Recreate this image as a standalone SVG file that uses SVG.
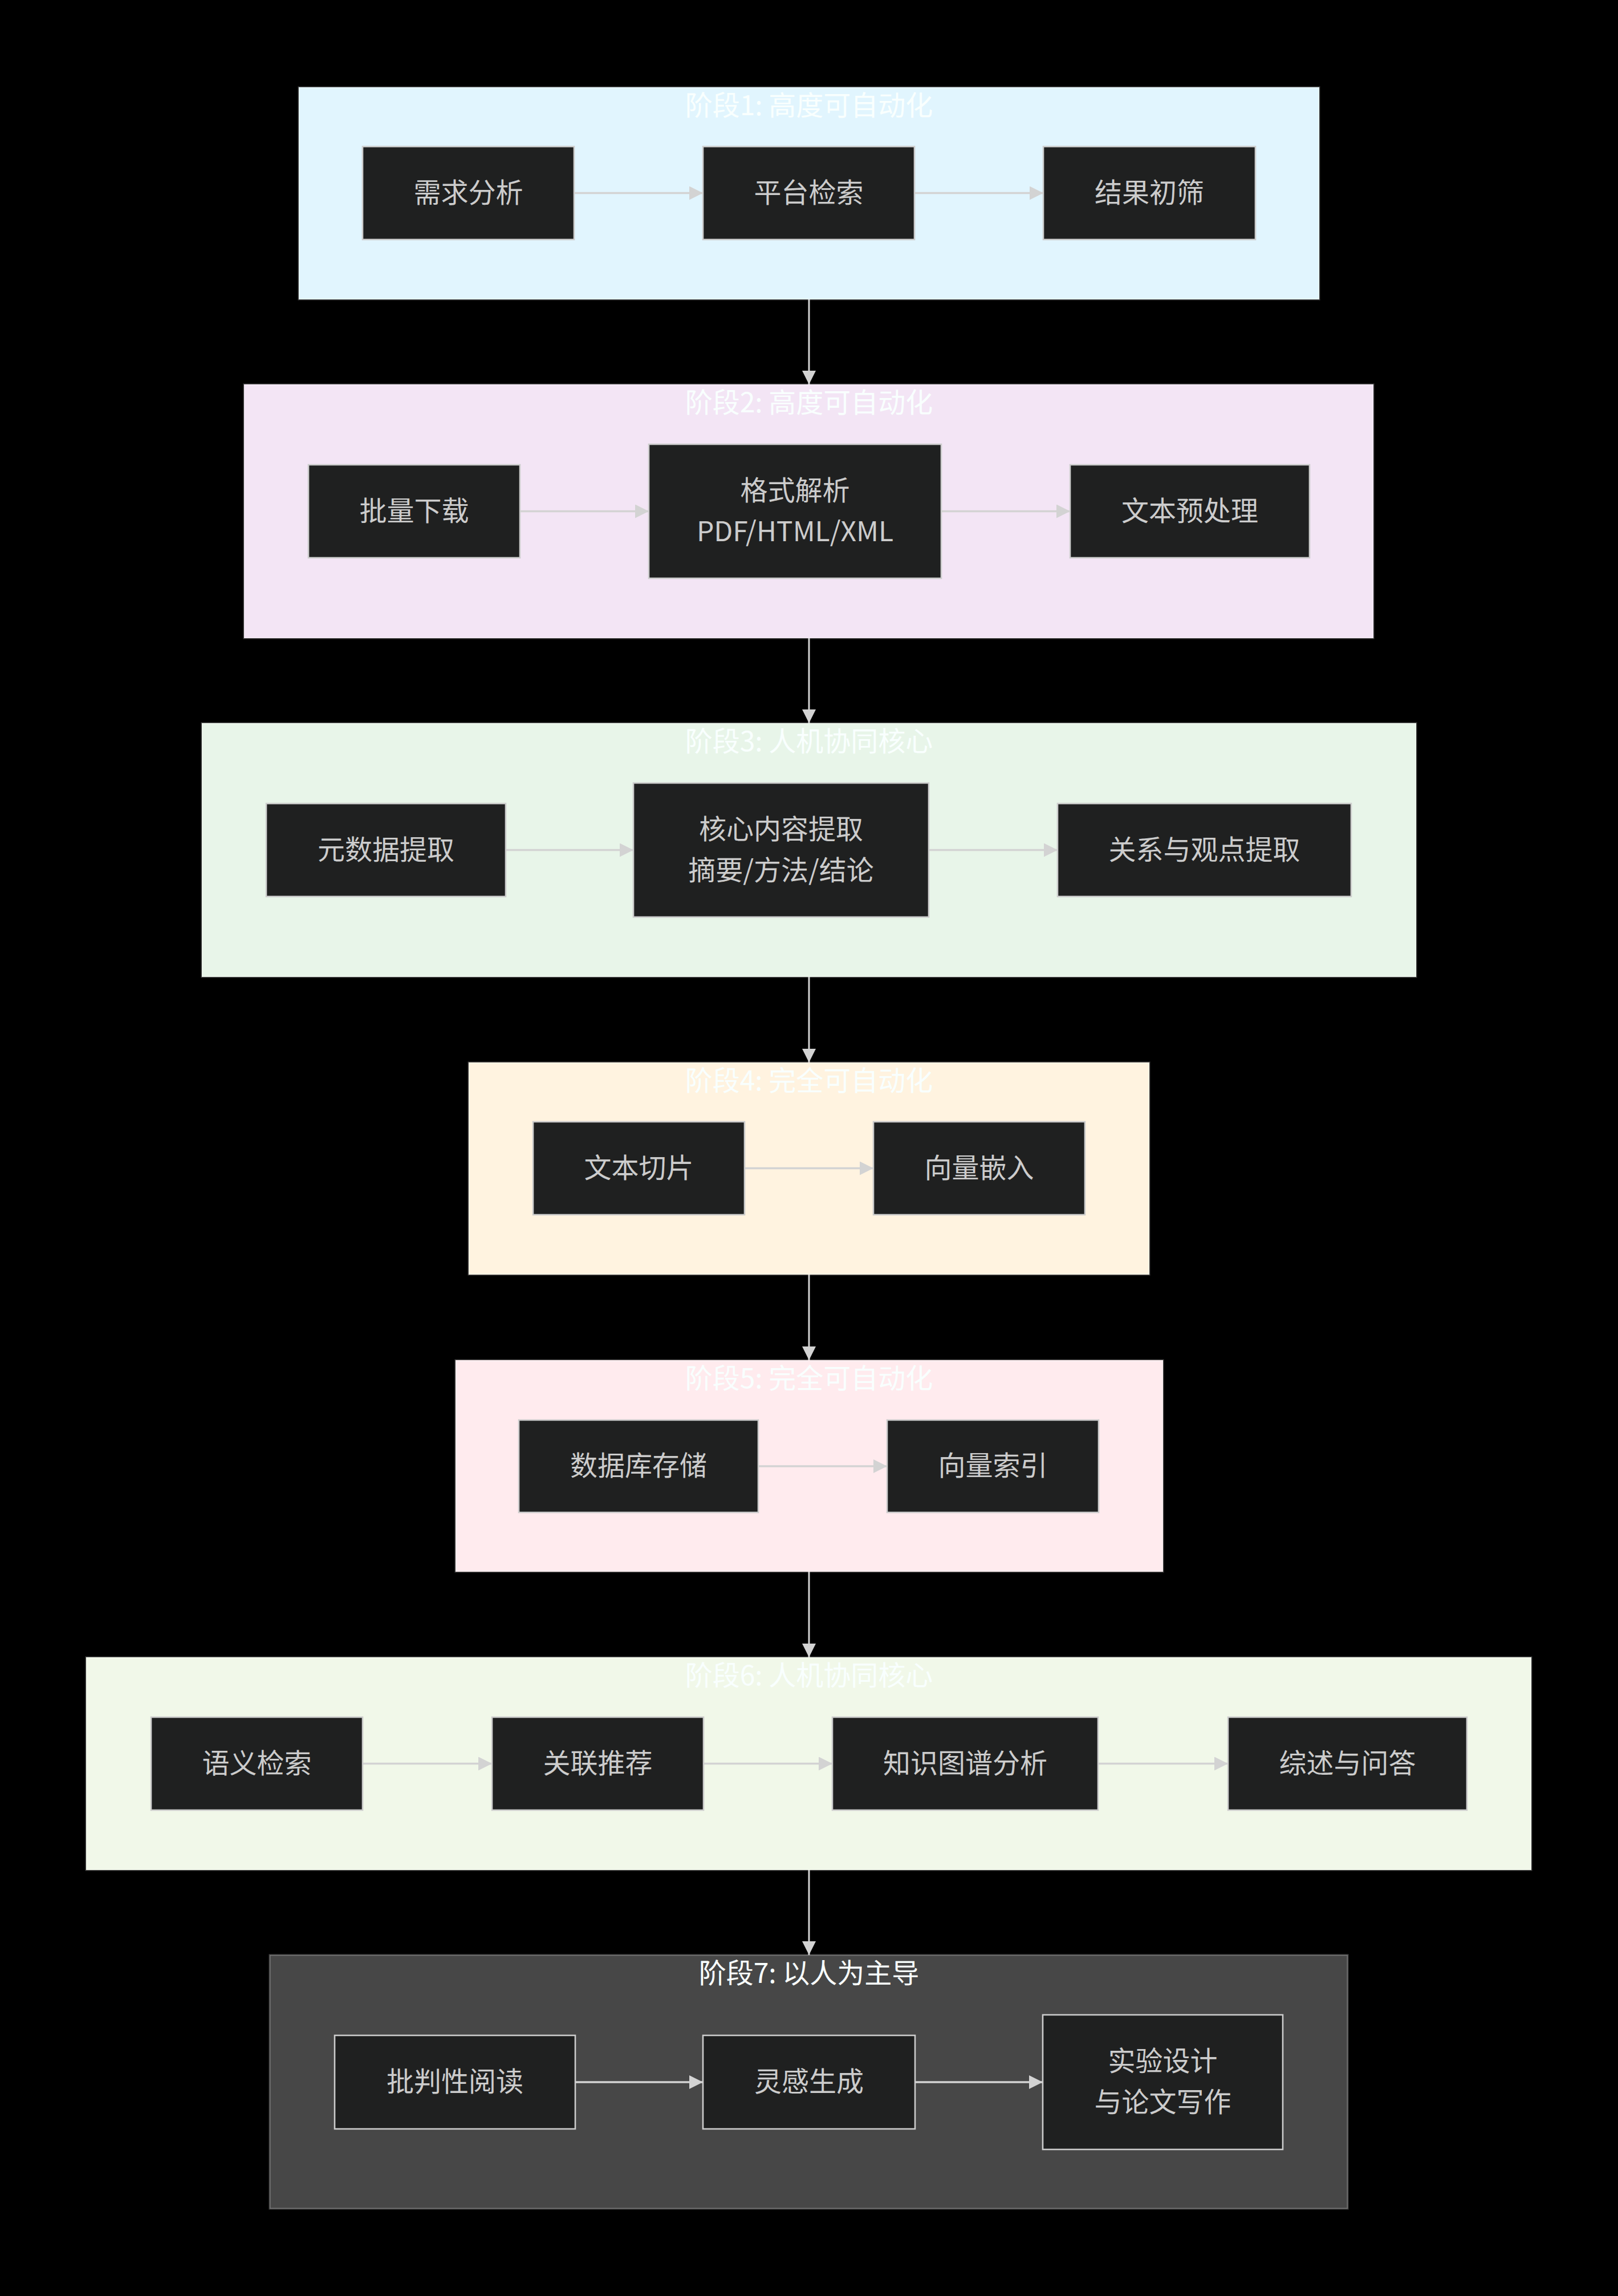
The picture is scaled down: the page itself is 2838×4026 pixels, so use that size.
<svg xmlns="http://www.w3.org/2000/svg" width="2838" height="4026" viewBox="0 0 2838 4026">
<style>
.stage{stroke:rgba(255,255,255,0.25);stroke-width:3}
.title{font-family:"Noto Sans CJK SC","Liberation Sans",sans-serif;font-size:48px;fill:#F9FFFE;text-anchor:middle}
.node rect{fill:#1f2020;stroke:#cccccc;stroke-width:2.6}
.node text{font-family:"Noto Sans CJK SC","Liberation Sans",sans-serif;font-size:48px;fill:#cccccc;text-anchor:middle}
.edge{stroke:#d3d3d3;stroke-width:3.5;fill:none;marker-end:url(#arrow)}
</style>
<defs>
<marker id="arrow" markerUnits="userSpaceOnUse" markerWidth="24" markerHeight="24" viewBox="0 0 10 10" refX="10" refY="5" orient="auto">
<path d="M0,0 L10,5 L0,10 z" fill="#d3d3d3"/>
</marker>
</defs>
<rect x="0" y="0" width="2838" height="4026" fill="#000000"/>

<g id="stage1">
<rect class="stage" x="524" y="153" width="1790" height="372" fill="#e1f5fe"/>
<text class="title" x="1419" y="202">阶段1: 高度可自动化</text>
</g>
<g id="stage2">
<rect class="stage" x="428" y="674" width="1981" height="445" fill="#f3e5f5"/>
<text class="title" x="1419" y="723">阶段2: 高度可自动化</text>
</g>
<g id="stage3">
<rect class="stage" x="354" y="1268" width="2130" height="445" fill="#e8f5e9"/>
<text class="title" x="1419" y="1317">阶段3: 人机协同核心</text>
</g>
<g id="stage4">
<rect class="stage" x="822" y="1863" width="1194" height="372" fill="#fff3e0"/>
<text class="title" x="1419" y="1912">阶段4: 完全可自动化</text>
</g>
<g id="stage5">
<rect class="stage" x="799" y="2385" width="1241" height="371" fill="#ffebee"/>
<text class="title" x="1419" y="2434">阶段5: 完全可自动化</text>
</g>
<g id="stage6">
<rect class="stage" x="151" y="2906" width="2535" height="373" fill="#f1f8e9"/>
<text class="title" x="1419" y="2955">阶段6: 人机协同核心</text>
</g>
<g id="stage7">
<rect class="stage" x="473" y="3428" width="1891" height="445" fill="#474747"/>
<text class="title" x="1419" y="3477">阶段7: 以人为主导</text>
</g>

<g id="connectors">
<line class="edge" x1="1007" y1="338.5" x2="1233" y2="338.5"/>
<line class="edge" x1="1604" y1="338.5" x2="1830" y2="338.5"/>
<line class="edge" x1="912" y1="896.5" x2="1138" y2="896.5"/>
<line class="edge" x1="1651" y1="896.5" x2="1877" y2="896.5"/>
<line class="edge" x1="887" y1="1490.5" x2="1111" y2="1490.5"/>
<line class="edge" x1="1629" y1="1490.5" x2="1855" y2="1490.5"/>
<line class="edge" x1="1306" y1="2048.5" x2="1532" y2="2048.5"/>
<line class="edge" x1="1330" y1="2571" x2="1556" y2="2571"/>
<line class="edge" x1="636" y1="3092.5" x2="863" y2="3092.5"/>
<line class="edge" x1="1234" y1="3092.5" x2="1460" y2="3092.5"/>
<line class="edge" x1="1926" y1="3092.5" x2="2154" y2="3092.5"/>
<line class="edge" x1="1009" y1="3651" x2="1233" y2="3651"/>
<line class="edge" x1="1605" y1="3651" x2="1829" y2="3651"/>
<line class="edge" style="stroke-width:3" x1="1419" y1="525" x2="1419" y2="674"/>
<line class="edge" style="stroke-width:3" x1="1419" y1="1119" x2="1419" y2="1268"/>
<line class="edge" style="stroke-width:3" x1="1419" y1="1713" x2="1419" y2="1863"/>
<line class="edge" style="stroke-width:3" x1="1419" y1="2235" x2="1419" y2="2385"/>
<line class="edge" style="stroke-width:3" x1="1419" y1="2756" x2="1419" y2="2906"/>
<line class="edge" style="stroke-width:3" x1="1419" y1="3279" x2="1419" y2="3428"/>
</g>

<g id="n1" class="node"><rect x="636" y="257" width="371" height="163"/><text x="821.5" y="354.5">需求分析</text></g>
<g id="n2" class="node"><rect x="1233" y="257" width="371" height="163"/><text x="1418.5" y="354.5">平台检索</text></g>
<g id="n3" class="node"><rect x="1830" y="257" width="372" height="163"/><text x="2016" y="354.5">结果初筛</text></g>

<g id="n4" class="node"><rect x="541" y="815" width="371" height="163"/><text x="726.5" y="912.5">批量下载</text></g>
<g id="n5" class="node"><rect x="1138" y="779" width="513" height="235"/><text x="1394.5" y="876.5">格式解析</text><text x="1394.5" y="948.5">PDF/HTML/XML</text></g>
<g id="n6" class="node"><rect x="1877" y="815" width="420" height="163"/><text x="2087" y="912.5">文本预处理</text></g>

<g id="n7" class="node"><rect x="467" y="1409" width="420" height="163"/><text x="677" y="1506.5">元数据提取</text></g>
<g id="n8" class="node"><rect x="1111" y="1373" width="518" height="235"/><text x="1370" y="1470.5">核心内容提取</text><text x="1370" y="1542.5">摘要/方法/结论</text></g>
<g id="n9" class="node"><rect x="1855" y="1409" width="515" height="163"/><text x="2112.5" y="1506.5">关系与观点提取</text></g>

<g id="n10" class="node"><rect x="935" y="1967" width="371" height="163"/><text x="1120.5" y="2064.5">文本切片</text></g>
<g id="n11" class="node"><rect x="1532" y="1967" width="371" height="163"/><text x="1717.5" y="2064.5">向量嵌入</text></g>

<g id="n12" class="node"><rect x="910" y="2490" width="420" height="162"/><text x="1120" y="2587">数据库存储</text></g>
<g id="n13" class="node"><rect x="1556" y="2490" width="371" height="162"/><text x="1741.5" y="2587">向量索引</text></g>

<g id="n14" class="node"><rect x="265" y="3011" width="371" height="163"/><text x="450.5" y="3108.5">语义检索</text></g>
<g id="n15" class="node"><rect x="863" y="3011" width="371" height="163"/><text x="1048.5" y="3108.5">关联推荐</text></g>
<g id="n16" class="node"><rect x="1460" y="3011" width="466" height="163"/><text x="1693" y="3108.5">知识图谱分析</text></g>
<g id="n17" class="node"><rect x="2154" y="3011" width="419" height="163"/><text x="2363.5" y="3108.5">综述与问答</text></g>

<g id="n18" class="node"><rect x="587" y="3569" width="422" height="164"/><text x="798" y="3667">批判性阅读</text></g>
<g id="n19" class="node"><rect x="1233" y="3569" width="372" height="164"/><text x="1419" y="3667">灵感生成</text></g>
<g id="n20" class="node"><rect x="1829" y="3533" width="421" height="236"/><text x="2039.5" y="3631">实验设计</text><text x="2039.5" y="3703">与论文写作</text></g>
</svg>
